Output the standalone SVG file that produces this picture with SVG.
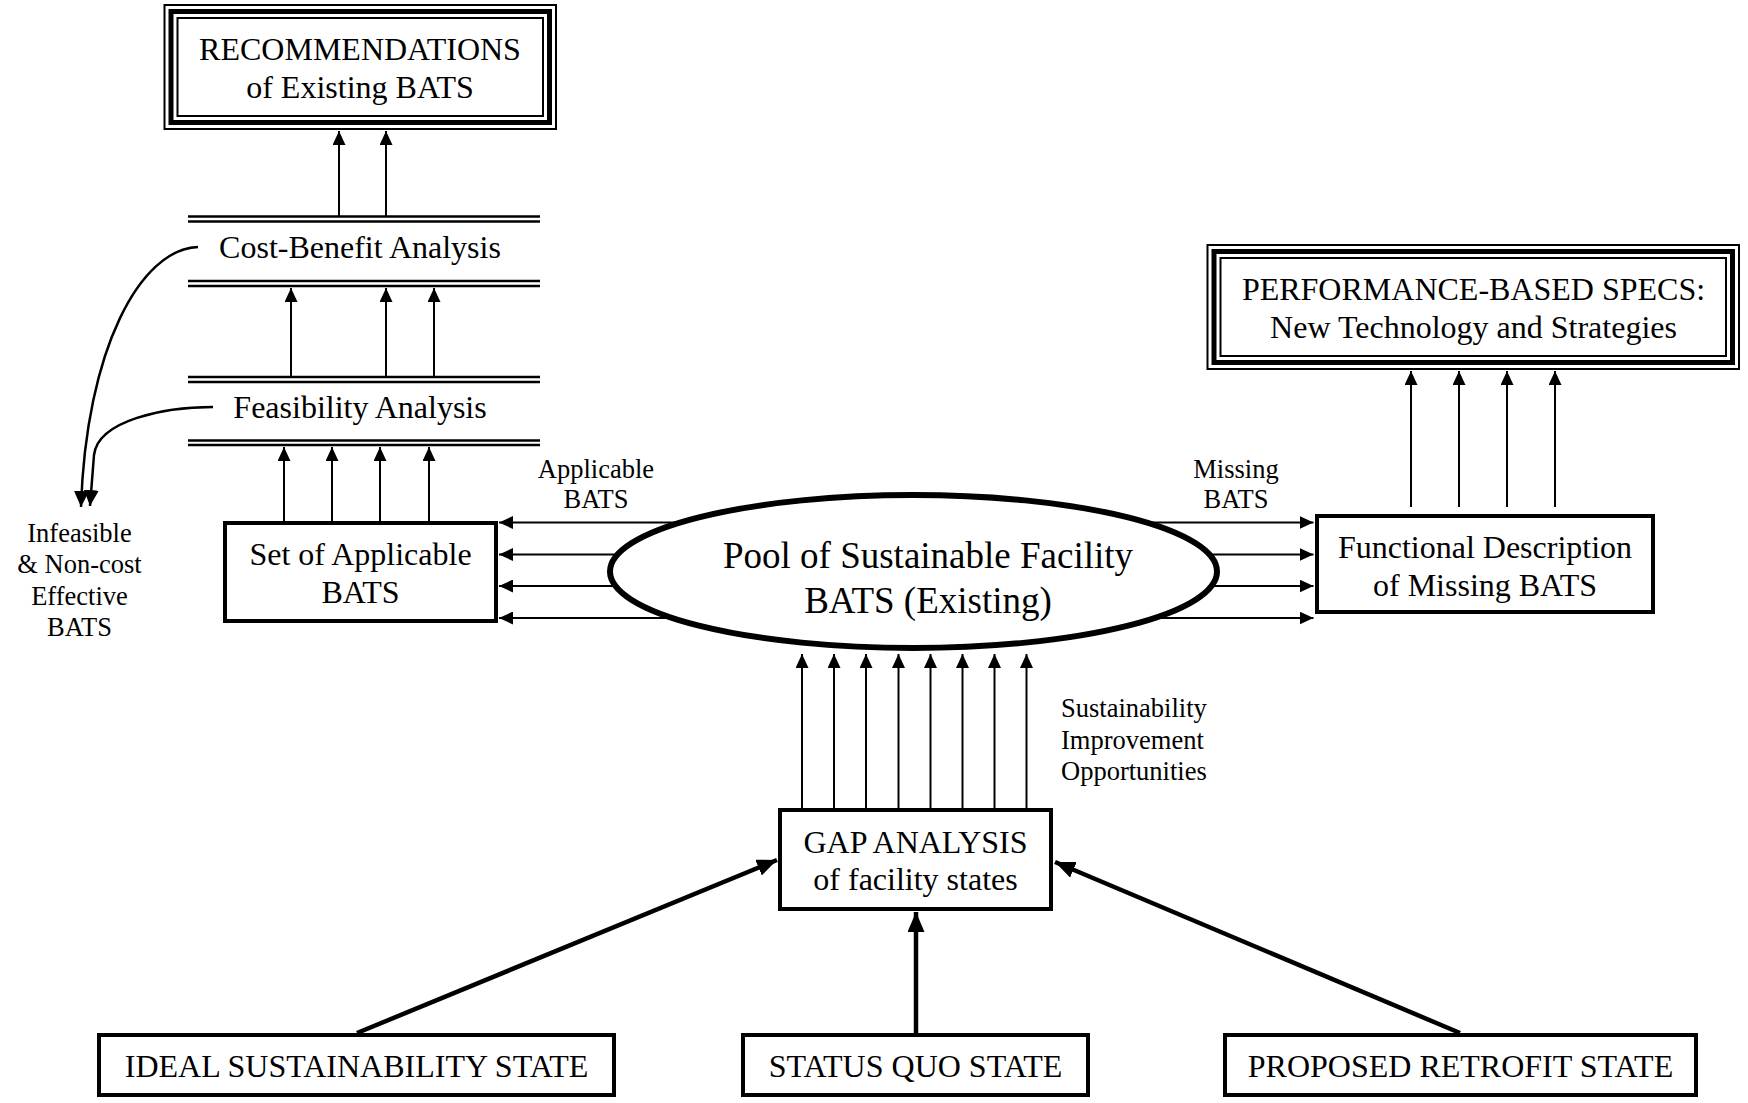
<svg xmlns="http://www.w3.org/2000/svg" width="1748" height="1103" viewBox="0 0 1748 1103">
  <style>
    .t { font-family: "Liberation Serif", "Times New Roman", serif; fill: #000; text-anchor: middle; }
    .m { font-size: 32px; }
    .s { font-size: 26.5px; }
    .e { font-size: 37px; }
    .l { text-anchor: start; }
    .box { fill: #fff; stroke: #000; stroke-width: 4; }
    .thin { fill: #fff; stroke: #000; stroke-width: 2; }
    .mid { fill: none; stroke: #000; stroke-width: 5; }
    .inner { fill: none; stroke: #000; stroke-width: 2; }
    .rule { stroke: #000; stroke-width: 2.5; }
    .c { stroke: #000; stroke-width: 2; fill: none; marker-end: url(#ah); }
    .ct { stroke: #000; stroke-width: 4.5; fill: none; marker-end: url(#ahT); }
    .cv { stroke: #000; stroke-width: 2.5; fill: none; marker-end: url(#ahC); }
  </style>
  <defs>
    <marker id="ah" markerUnits="userSpaceOnUse" viewBox="0 0 14 13" markerWidth="14" markerHeight="13" refX="14" refY="6.5" orient="auto">
      <path d="M0,0 L14,6.5 L0,13 z" fill="#000"/>
    </marker>
    <marker id="ahT" markerUnits="userSpaceOnUse" viewBox="0 0 20 17" markerWidth="20" markerHeight="17" refX="20" refY="8.5" orient="auto">
      <path d="M0,0 L20,8.5 L0,17 z" fill="#000"/>
    </marker>
    <marker id="ahC" markerUnits="userSpaceOnUse" viewBox="0 0 16 15" markerWidth="16" markerHeight="15" refX="16" refY="7.5" orient="auto">
      <path d="M0,0 L16,7.5 L0,15 z" fill="#000"/>
    </marker>
  </defs>

  <rect width="1748" height="1103" fill="#fff"/>

  <!-- connectors -->
  <g id="connectors">
    <!-- cost-benefit to recommendations -->
    <line class="c" x1="339" y1="216" x2="339" y2="131"/>
    <line class="c" x1="386" y1="216" x2="386" y2="131"/>
    <!-- feasibility to cost-benefit -->
    <line class="c" x1="291" y1="376" x2="291" y2="288"/>
    <line class="c" x1="386" y1="376" x2="386" y2="288"/>
    <line class="c" x1="434" y1="376" x2="434" y2="288"/>
    <!-- applicable set to feasibility -->
    <line class="c" x1="284" y1="523" x2="284" y2="447"/>
    <line class="c" x1="332" y1="523" x2="332" y2="447"/>
    <line class="c" x1="380" y1="523" x2="380" y2="447"/>
    <line class="c" x1="429" y1="523" x2="429" y2="447"/>
    <!-- rejected BATS -->
    <path class="cv" d="M198,247 C140,249 86,350 81,507"/>
    <path class="cv" d="M213,407 C165,407 98,420 94,455 L90,506"/>
    <!-- pool to applicable set -->
    <line class="c" x1="700" y1="522.5" x2="499" y2="522.5"/>
    <line class="c" x1="700" y1="554.5" x2="499" y2="554.5"/>
    <line class="c" x1="700" y1="586" x2="499" y2="586"/>
    <line class="c" x1="700" y1="618" x2="499" y2="618"/>
    <!-- pool to missing BATS -->
    <line class="c" x1="1130" y1="522.5" x2="1313.5" y2="522.5"/>
    <line class="c" x1="1130" y1="554.5" x2="1313.5" y2="554.5"/>
    <line class="c" x1="1130" y1="586" x2="1313.5" y2="586"/>
    <line class="c" x1="1130" y1="618" x2="1313.5" y2="618"/>
    <!-- missing BATS to specs -->
    <line class="c" x1="1411" y1="507" x2="1411" y2="371"/>
    <line class="c" x1="1459" y1="507" x2="1459" y2="371"/>
    <line class="c" x1="1507" y1="507" x2="1507" y2="371"/>
    <line class="c" x1="1555" y1="507" x2="1555" y2="371"/>
    <!-- gap analysis to pool -->
    <line class="c" x1="802" y1="808" x2="802" y2="654"/>
    <line class="c" x1="834" y1="808" x2="834" y2="654"/>
    <line class="c" x1="866" y1="808" x2="866" y2="654"/>
    <line class="c" x1="898.5" y1="808" x2="898.5" y2="654"/>
    <line class="c" x1="930.5" y1="808" x2="930.5" y2="654"/>
    <line class="c" x1="962.5" y1="808" x2="962.5" y2="654"/>
    <line class="c" x1="994.5" y1="808" x2="994.5" y2="654"/>
    <line class="c" x1="1026.5" y1="808" x2="1026.5" y2="654"/>
    <!-- facility states to gap analysis -->
    <line class="ct" x1="357" y1="1033" x2="777" y2="860"/>
    <line class="ct" x1="916" y1="1033" x2="916" y2="912"/>
    <line class="ct" x1="1460" y1="1033" x2="1055" y2="862"/>
  </g>

  <!-- connector labels -->
  <g id="labels">
    <text class="t s" x="596" y="478">Applicable</text>
    <text class="t s" x="596" y="508">BATS</text>
    <text class="t s" x="1236" y="478">Missing</text>
    <text class="t s" x="1236" y="508">BATS</text>
    <text class="t s l" x="1061" y="717">Sustainability</text>
    <text class="t s l" x="1061" y="749">Improvement</text>
    <text class="t s l" x="1061" y="780">Opportunities</text>
  </g>

  <g id="recommendations">
    <rect class="thin" x="164.5" y="5" width="391.5" height="124"/>
    <rect class="mid" x="171" y="11.5" width="378.5" height="111"/>
    <rect class="inner" x="177.5" y="18" width="365.5" height="98"/>
    <text class="t m" x="360" y="60">RECOMMENDATIONS</text>
    <text class="t m" x="360" y="98">of Existing BATS</text>
  </g>

  <g id="cost-benefit">
    <line class="rule" x1="188" y1="216.5" x2="540" y2="216.5"/>
    <line class="rule" x1="188" y1="221.5" x2="540" y2="221.5"/>
    <text class="t m" x="360" y="258">Cost-Benefit Analysis</text>
    <line class="rule" x1="188" y1="281" x2="540" y2="281"/>
    <line class="rule" x1="188" y1="286" x2="540" y2="286"/>
  </g>

  <g id="feasibility">
    <line class="rule" x1="188" y1="377" x2="540" y2="377"/>
    <line class="rule" x1="188" y1="382" x2="540" y2="382"/>
    <text class="t m" x="360" y="418">Feasibility Analysis</text>
    <line class="rule" x1="188" y1="440.5" x2="540" y2="440.5"/>
    <line class="rule" x1="188" y1="445" x2="540" y2="445"/>
  </g>

  <g id="rejected">
    <text class="t s" x="79.5" y="542">Infeasible</text>
    <text class="t s" x="79.5" y="573">&amp; Non-cost</text>
    <text class="t s" x="79.5" y="605">Effective</text>
    <text class="t s" x="79.5" y="636">BATS</text>
  </g>

  <g id="applicable-set">
    <rect class="box" x="225" y="523" width="271" height="98"/>
    <text class="t m" x="360.5" y="565">Set of Applicable</text>
    <text class="t m" x="360.5" y="603">BATS</text>
  </g>

  <g id="pool">
    <ellipse cx="913.5" cy="571.5" rx="303.5" ry="76.5" fill="#fff" stroke="#000" stroke-width="6"/>
    <text class="t e" x="928" y="568">Pool of Sustainable Facility</text>
    <text class="t e" x="928" y="613">BATS (Existing)</text>
  </g>

  <g id="functional-description">
    <rect class="box" x="1317" y="516" width="336" height="96"/>
    <text class="t m" x="1485" y="558">Functional Description</text>
    <text class="t m" x="1485" y="596">of Missing BATS</text>
  </g>

  <g id="performance-specs">
    <rect class="thin" x="1207.5" y="245" width="531.5" height="124"/>
    <rect class="mid" x="1214" y="251.5" width="518.5" height="111"/>
    <rect class="inner" x="1220.5" y="258" width="505.5" height="98"/>
    <text class="t m" x="1473.5" y="300">PERFORMANCE-BASED SPECS:</text>
    <text class="t m" x="1473.5" y="338">New Technology and Strategies</text>
  </g>

  <g id="gap-analysis">
    <rect class="box" x="780" y="810" width="271" height="99"/>
    <text class="t m" x="915.5" y="853">GAP ANALYSIS</text>
    <text class="t m" x="915.5" y="890">of facility states</text>
  </g>

  <g id="ideal-state">
    <rect class="box" x="99" y="1035" width="515" height="60"/>
    <text class="t m" x="356.5" y="1077">IDEAL SUSTAINABILITY STATE</text>
  </g>

  <g id="status-quo-state">
    <rect class="box" x="743" y="1035" width="345" height="60"/>
    <text class="t m" x="915.5" y="1077">STATUS QUO STATE</text>
  </g>

  <g id="retrofit-state">
    <rect class="box" x="1225" y="1035" width="471" height="60"/>
    <text class="t m" x="1460.5" y="1077">PROPOSED RETROFIT STATE</text>
  </g>
</svg>
